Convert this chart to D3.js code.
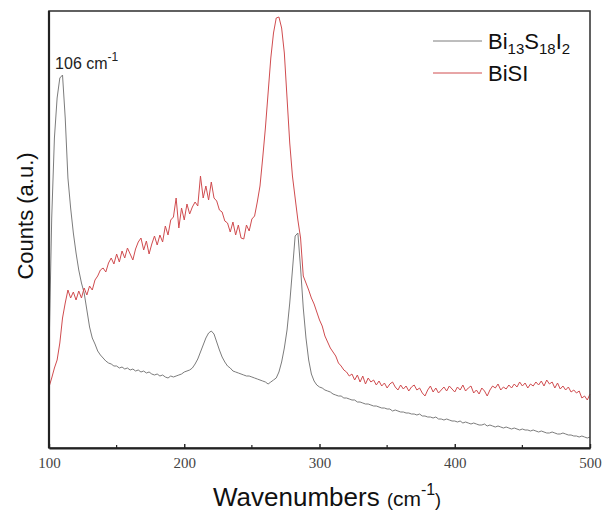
<!DOCTYPE html>
<html>
<head>
<meta charset="utf-8">
<script src="https://cdn.jsdelivr.net/npm/d3@7"></script>
<style>
	body { margin: 0; background: #fff; }
	svg { display: block; }
</style>
</head>
<body>
<svg id="canvas" width="606" height="512"></svg>
<script>
// wavenumber grid, 2 cm-1 step
const wavenumbers = d3.range(100, 501, 2);

// Bi13S18I2 counts (a.u.)
const biSIodide = [
	95, 230, 310, 350, 370, 373, 330, 270, 240, 215,
	195, 178, 165, 155, 138, 121, 110, 104, 97, 93,
	90, 87, 85, 84, 82, 82, 80, 81, 79, 80,
	78, 79, 77, 78, 76, 77, 75, 76, 74, 73,
	74, 72, 73, 71, 70, 72, 71, 72, 73, 74,
	76, 77, 78, 80, 84, 89, 96, 103, 110, 115,
	117, 114, 106, 98, 91, 86, 82, 80, 77, 76,
	75, 74, 73, 72, 72, 71, 70, 69, 68, 67,
	66, 64, 66, 68, 70, 76, 86, 100, 118, 145,
	178, 212, 215, 180, 140, 110, 88, 74, 67, 63,
	61, 60, 58, 57, 56, 54, 53, 52, 52, 50,
	50, 49, 48, 48, 46, 46, 45, 44, 44, 43,
	42, 42, 41, 40, 40, 39, 39, 37, 38, 37,
	36, 36, 35, 35, 34, 34, 33, 34, 32, 32,
	31, 31, 30, 31, 29, 29, 28, 29, 28, 27,
	27, 26, 27, 25, 26, 25, 24, 25, 24, 23,
	23, 24, 22, 23, 22, 21, 22, 21, 20, 21,
	20, 19, 20, 19, 18, 19, 18, 18, 17, 18,
	17, 16, 17, 16, 15, 15, 16, 15, 14, 14,
	15, 14, 13, 13, 12, 12, 11, 12, 11, 10,
	11
];

// BiSI counts (a.u.)
const biSI = [
	61, 70, 80, 88, 105, 130, 145, 158, 150, 156,
	148, 157, 150, 160, 153, 162, 158, 168, 172, 178,
	180, 176, 185, 190, 184, 194, 186, 197, 190, 200,
	194, 188, 199, 206, 210, 198, 207, 194, 204, 212,
	203, 213, 206, 222, 213, 228, 231, 250, 220, 240,
	228, 244, 234, 241, 246, 242, 272, 250, 262, 248,
	266, 250, 247, 238, 236, 227, 225, 216, 226, 213,
	223, 210, 209, 223, 217, 229, 232, 246, 262, 290,
	320, 355, 390, 415, 430, 431, 420, 395, 350, 305,
	272, 250, 228, 210, 172, 165, 158, 150, 144, 136,
	128, 122, 112, 106, 100, 96, 92, 85, 82, 78,
	76, 72, 74, 68, 73, 66, 72, 64, 70, 66,
	68, 63, 67, 62, 65, 60, 64, 66, 61, 58,
	63, 59, 62, 57, 61, 63, 58, 60, 55, 52,
	58, 62, 56, 60, 55, 58, 61, 57, 62, 59,
	56, 61, 58, 63, 57, 60, 62, 55, 58, 54,
	60, 57, 52, 58, 62, 60, 64, 58, 61, 59,
	63, 60, 64, 61, 66, 62, 65, 60, 64, 62,
	66, 63, 67, 62, 68, 64, 66, 60, 65, 59,
	62, 58, 61, 56, 58, 55, 57, 50, 52, 48,
	54
];

const seriesNames = ['Bi13S18I2', 'BiSI'];
const seriesColors = ['#7c7c7c', '#d04c4f'];
const xTicks = [100, 200, 300, 400, 500];
const xMinorTicks = [150, 250, 350, 450];

const canvas = d3.select('#canvas');
const margin = { left: 49, right: 16, top: 11, bottom: 64 };
const width = 606 - margin.left - margin.right;
const height = 512 - margin.top - margin.bottom;

const xScale = d3.scaleLinear().domain([100, 500]).range([0, width]);
const yScale = d3.scaleLinear().domain([0, 437]).range([height, 0]);

const plot = canvas
	.append('g')
	.attr('transform', 'translate(' + margin.left + ',' + margin.top + ')');

// curves
const line = d3
	.line()
	.x((d) => xScale(d[0]))
	.y((d) => yScale(d[1]));

[biSIodide, biSI].forEach((values, i) => {
	plot
		.append('path')
		.datum(wavenumbers.map((w, j) => [w, values[j]]))
		.attr('d', line)
		.attr('fill', 'none')
		.attr('stroke', seriesColors[i])
		.attr('stroke-width', 1)
		.attr('stroke-linejoin', 'round');
});

// frame
plot
	.append('rect')
	.attr('width', width)
	.attr('height', height)
	.attr('fill', 'none')
	.attr('stroke', '#3a3a3a')
	.attr('stroke-width', 1.6);

// bottom axis with inward ticks
const xAxis = d3
	.axisBottom(xScale)
	.tickValues(xTicks)
	.tickSize(-4)
	.tickSizeOuter(0)
	.tickPadding(9);

const xAxisG = plot
	.append('g')
	.attr('transform', 'translate(0,' + height + ')')
	.call(xAxis);

xAxisG.select('.domain').attr('stroke', '#222').attr('stroke-width', 2.2);
xAxisG.selectAll('.tick line').attr('stroke', '#222').attr('stroke-width', 1.4);
xAxisG
	.selectAll('.tick text')
	.attr('font-family', '"Liberation Serif", serif')
	.attr('font-size', 15)
	.attr('fill', '#444');

xAxisG
	.selectAll('.minor')
	.data(xMinorTicks)
	.enter()
	.append('line')
	.attr('x1', (d) => xScale(d))
	.attr('x2', (d) => xScale(d))
	.attr('y1', 0)
	.attr('y2', -3)
	.attr('stroke', '#222')
	.attr('stroke-width', 1.2);

// left axis line, heavier
plot
	.append('line')
	.attr('x1', 0)
	.attr('x2', 0)
	.attr('y1', 0)
	.attr('y2', height)
	.attr('stroke', '#222')
	.attr('stroke-width', 2.2);

// axis titles
const xTitle = canvas
	.append('text')
	.attr('x', 213)
	.attr('y', 506)
	.attr('font-family', '"Liberation Sans", Arial, sans-serif')
	.attr('fill', '#111');
xTitle.append('tspan').attr('font-size', 26).text('Wavenumbers ');
xTitle.append('tspan').attr('font-size', 18).text('(');
xTitle.append('tspan').attr('font-size', 21).text('cm');
xTitle.append('tspan').attr('font-size', 16).attr('dy', -11).text('-1');
xTitle.append('tspan').attr('font-size', 18).attr('dy', 11).text(')');

canvas
	.append('text')
	.attr('transform', 'translate(33,216) rotate(-90)')
	.attr('text-anchor', 'middle')
	.attr('font-family', '"Liberation Sans", Arial, sans-serif')
	.attr('font-size', 22)
	.attr('fill', '#111')
	.text('Counts (a.u.)');

// peak annotation
const note = plot
	.append('text')
	.attr('x', xScale(104.5))
	.attr('y', 58)
	.attr('font-family', '"Liberation Sans", Arial, sans-serif')
	.attr('fill', '#222');
note.append('tspan').attr('font-size', 16).text('106 cm');
note.append('tspan').attr('font-size', 12).attr('dy', -8).text('-1');

// legend
const legend = plot.append('g').attr('transform', 'translate(384,30)');
seriesNames.forEach((name, i) => {
	const row = legend.append('g').attr('transform', 'translate(0,' + i * 32 + ')');
	row
		.append('line')
		.attr('x1', 0)
		.attr('x2', 49)
		.attr('stroke', seriesColors[i])
		.attr('stroke-width', 1);
	const t = row
		.append('text')
		.attr('x', 55)
		.attr('y', 8)
		.attr('font-family', '"Liberation Sans", Arial, sans-serif')
		.attr('font-size', 22)
		.attr('fill', '#111');
	if (i === 0) {
		t.append('tspan').text('Bi');
		t.append('tspan').attr('font-size', 15).attr('dy', 5).text('13');
		t.append('tspan').attr('dy', -5).text('S');
		t.append('tspan').attr('font-size', 15).attr('dy', 5).text('18');
		t.append('tspan').attr('dy', -5).text('I');
		t.append('tspan').attr('font-size', 15).attr('dy', 5).text('2');
	} else {
		t.text(name);
	}
});
</script>
</body>
</html>
